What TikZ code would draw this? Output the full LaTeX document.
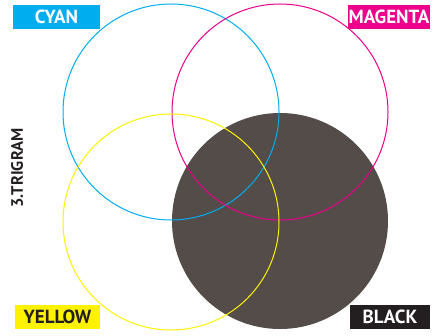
\documentclass[tikz,border=0pt]{standalone}
\usepackage{fontspec}
\setmainfont{PT Sans}
\definecolor{cmykcyan}{RGB}{0,174,239}
\definecolor{cmykmagenta}{RGB}{236,0,140}
\definecolor{cmykyellow}{RGB}{255,242,0}
\definecolor{cmykkey}{RGB}{83,76,72}
\definecolor{labelkey}{RGB}{35,31,32}
\begin{document}
\begin{tikzpicture}[
    x=1pt,
    y=-1pt,
    ring/.style={
        circle,
        minimum size=216pt,
        inner sep=0pt,
        line width=1pt
    },
    tag/.style={
        rectangle,
        minimum height=24pt,
        inner sep=0pt,
        font=\fontsize{19}{19}\selectfont\bfseries,
        text=white
    }
]
\useasboundingbox (0,0) rectangle (435,336);

% Circles
\node [ring, fill=cmykkey] (black) at (280,221) {};
\node [ring, draw=cmykcyan] (cyan) at (171,112) {};
\node [ring, draw=cmykmagenta] (magenta) at (280,112) {};
\node [ring, draw=cmykyellow] (yellow) at (171,222) {};

% Labels
\node [tag, fill=cmykcyan, minimum width=87pt] (cyanlabel) at (56.5,17) {CYAN};
\node [tag, fill=cmykmagenta, minimum width=82pt] (magentalabel) at (389,17) {MAGENTA};
\node [tag, fill=cmykyellow, text=labelkey, minimum width=85pt] (yellowlabel) at (57.5,317) {YELLOW};
\node [tag, fill=labelkey, minimum width=80pt] (blacklabel) at (390,317) {BLACK};

\node [rotate=90, font=\fontsize{16.5}{16.5}\selectfont\bfseries, text=labelkey] (title) at (17,168) {3.TRIGRAM};

\end{tikzpicture}
\end{document}
